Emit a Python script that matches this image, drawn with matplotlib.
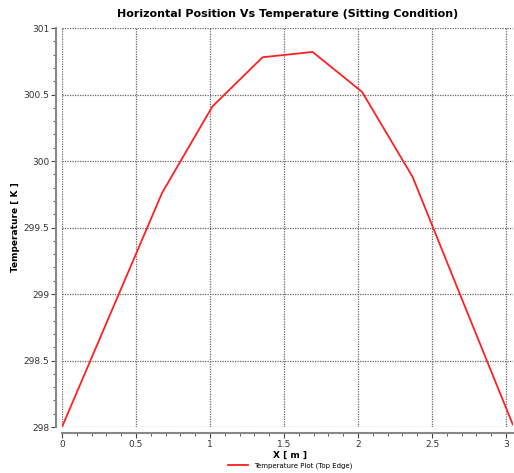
import numpy as np
import matplotlib.pyplot as plt
from matplotlib.ticker import MultipleLocator

# Temperature along the top edge
x = [0.0, 0.338, 0.676, 1.016, 1.355, 1.693, 2.027, 2.369, 2.706, 3.045]
temp = [298.0, 298.88, 299.76, 300.41, 300.78, 300.82, 300.52, 299.88, 298.95, 298.02]


def main():
    fig = plt.figure(figsize=(5.14, 4.73), dpi=100)
    ax = fig.add_axes([62 / 514, 1 - 427 / 473, (513 - 62) / 514, (427 - 28) / 473])

    ax.plot(x, temp, color="#ff2020", lw=1.3, label="Temperature Plot (Top Edge)")

    ax.set_xlim(0, 3.047)
    ax.set_ylim(298, 301)
    ax.xaxis.set_major_locator(MultipleLocator(0.5))
    ax.xaxis.set_minor_locator(MultipleLocator(0.1))
    ax.yaxis.set_major_locator(MultipleLocator(0.5))
    ax.yaxis.set_minor_locator(MultipleLocator(0.1))
    ax.set_xticks([0, 0.5, 1, 1.5, 2, 2.5, 3], ["0", "0.5", "1", "1.5", "2", "2.5", "3"])
    ax.set_yticks([298, 298.5, 299, 299.5, 300, 300.5, 301],
                  ["298", "298.5", "299", "299.5", "300", "300.5", "301"])

    ax.grid(True, which="major", color="#666666", ls=(0, (1, 1)), lw=0.9)
    for s in ["top", "right"]:
        ax.spines[s].set_visible(False)
    for s in ["left", "bottom"]:
        ax.spines[s].set_position(("outward", 4))
        ax.spines[s].set_color("#888888")
        ax.spines[s].set_linewidth(1.5)
    ax.tick_params(which="major", length=3.5, width=0.8, pad=1.5, color="#444444",
                   labelsize=6.5, labelcolor="#333333")
    ax.tick_params(which="minor", length=2, width=0.6, color="#444444")

    ax.set_title("Horizontal Position Vs Temperature (Sitting Condition)",
                 fontsize=8, fontweight="bold", pad=8)
    ax.set_xlabel("X [ m ]", fontsize=6.5, fontweight="bold", va="center")
    ax.set_ylabel("Temperature [ K ]", fontsize=6.5, fontweight="bold", va="center")
    ax.xaxis.set_label_coords((290 - 62) / 451, -(455 - 427) / 399)
    ax.yaxis.set_label_coords(-(62 - 16) / 451, (427 - 227) / 399)

    fig.legend(loc="center", bbox_to_anchor=(290 / 514, 1 - 466 / 473), frameon=False,
               fontsize=5, handlelength=3)

    fig.savefig("out.png", dpi=100)


if __name__ == "__main__":
    main()
